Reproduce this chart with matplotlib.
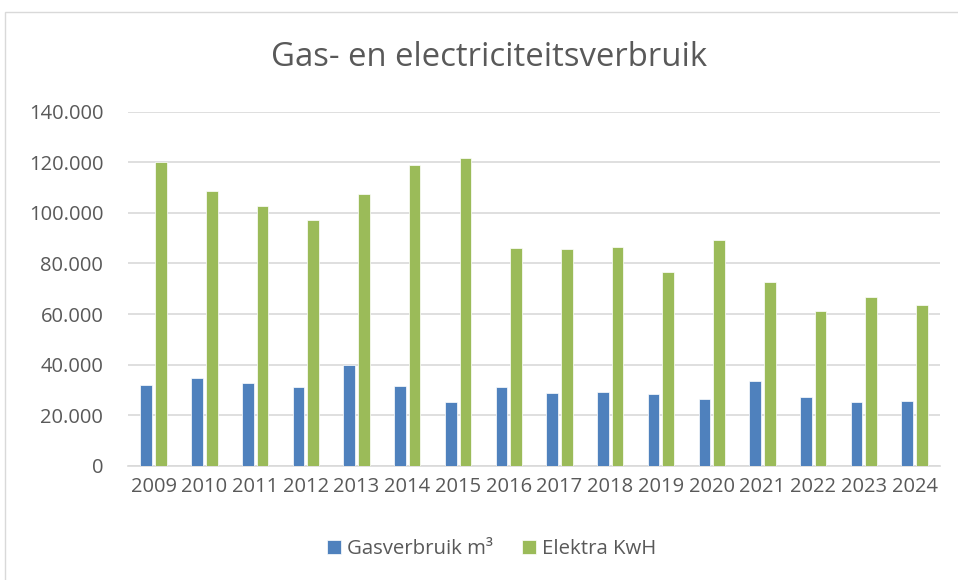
import numpy as np
import matplotlib
matplotlib.use("Agg")
from matplotlib import pyplot as plt
from matplotlib.ticker import FuncFormatter, MultipleLocator
from matplotlib.patches import Rectangle

years = ['2009', '2010', '2011', '2012', '2013', '2014', '2015', '2016',
         '2017', '2018', '2019', '2020', '2021', '2022', '2023', '2024']
gas = [32000, 34700, 32800, 31100, 39800, 31500, 25200, 31000,
       28900, 29300, 28300, 26500, 33600, 27000, 25300, 25700]
elektra = [120000, 108500, 102800, 97300, 107300, 118900, 121600, 86100,
           85600, 86500, 76700, 89400, 72500, 61200, 66700, 63700]
labels = ['Gasverbruik m³', 'Elektra KwH']

plt.rcParams['font.family'] = ['Open Sans', 'DejaVu Sans']
txt = '#595959'

fig = plt.figure(figsize=(9.58, 5.8), dpi=100)
fig.patches.append(Rectangle((5 / 958, -0.1), 1.1, 1 - 12 / 580 + 0.1,
                             transform=fig.transFigure, fill=False,
                             edgecolor='#d9d9d9', linewidth=1))
ax = fig.add_axes([0.1339, 0.197, 0.8473, 0.6104])

x = np.arange(len(years))
w = 0.23
ax.bar(x - 0.145, gas, w, color='#4f81bd', edgecolor='white', linewidth=0.5,
       label=labels[0], zorder=3)
ax.bar(x + 0.145, elektra, w, color='#9bbb59', edgecolor='white', linewidth=0.5,
       label=labels[1], zorder=3)

ax.set_xlim(-0.5, len(years) - 0.5)
ax.set_ylim(0, 140000)
ax.yaxis.set_major_locator(MultipleLocator(20000))
ax.yaxis.set_major_formatter(FuncFormatter(lambda v, p: f'{int(v):,}'.replace(',', '.')))
ax.set_xticks(x)
ax.set_xticklabels(years)
ax.grid(axis='y', color='#d9d9d9', linewidth=1.2, zorder=0)
for s in ['top', 'right', 'left']:
    ax.spines[s].set_visible(False)
ax.spines['bottom'].set_color('#d9d9d9')
ax.spines['bottom'].set_linewidth(1.2)
ax.tick_params(axis='both', length=0, labelsize=14.5, colors=txt)
ax.tick_params(axis='y', pad=18)
ax.tick_params(axis='x', pad=8)

fig.text(0.51, 1 - 58 / 580, 'Gas- en electriciteitsverbruik', ha='center',
         va='center', fontsize=23.7, color=txt)
fig.legend(loc='center', bbox_to_anchor=(0.513, 1 - 549 / 580), ncol=2,
           frameon=False, fontsize=14.7, labelcolor=txt, handlelength=0.7,
           handleheight=0.7, handletextpad=0.3, columnspacing=1.4)

plt.savefig('out.png', dpi=100)
